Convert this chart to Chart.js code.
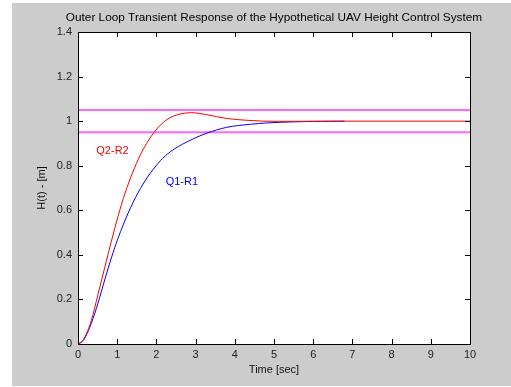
<!DOCTYPE html>
<html>
<head>
<meta charset="utf-8">
<script src="https://cdn.jsdelivr.net/npm/chart.js@4.4.1/dist/chart.umd.min.js"></script>
<style>
  html, body { margin: 0; padding: 0; background: #ffffff; }
  #wrap { width: 511px; height: 387px; position: relative; }
</style>
</head>
<body>
<div id="wrap"><canvas id="c" width="511" height="387"></canvas></div>
<script>
// ---- Data ----
const titleText = "Outer Loop Transient Response of the Hypothetical UAV Height Control System";
const xLabel = "Time [sec]";
const yLabel = "H(t) - [m]";
const xTicks = [0, 1, 2, 3, 4, 5, 6, 7, 8, 9, 10];
const yTicks = [0, 0.2, 0.4, 0.6, 0.8, 1, 1.2, 1.4];

const tQ2R2 = [0, 0.1, 0.2, 0.34, 0.51, 0.68, 0.85, 1.02, 1.2, 1.4, 1.58, 1.75, 1.92, 2.1, 2.26, 2.43, 2.6, 2.9, 3.28, 3.79, 4.39, 4.73, 5.5, 7, 10];
const hQ2R2 = [0, 0.012, 0.04, 0.105, 0.222, 0.342, 0.46, 0.572, 0.677, 0.772, 0.845, 0.9, 0.945, 0.982, 1.006, 1.022, 1.032, 1.038, 1.029, 1.012, 1.003, 1.0, 0.999, 1.0, 1.0];

const tQ1R1 = [0, 0.1, 0.2, 0.34, 0.51, 0.68, 0.85, 1.02, 1.28, 1.53, 1.79, 1.92, 2.1, 2.35, 2.77, 3.11, 3.28, 3.79, 4.4, 4.81, 5.54, 6.0, 6.8];
const hQ1R1 = [0, 0.01, 0.035, 0.093, 0.183, 0.287, 0.386, 0.474, 0.588, 0.678, 0.753, 0.784, 0.822, 0.862, 0.906, 0.934, 0.946, 0.972, 0.986, 0.992, 0.997, 0.999, 1.0];

const bandUpper = 1.05;
const bandLower = 0.95;
const bandT = [0, 10];

const seriesLabels = ["Q2-R2", "Q1-R1"];
const labelPos = [[0.88, 0.865], [2.65, 0.725]]; // data coords of text labels

// ---- build ----
const pts = (xs, ys) => xs.map((x, i) => ({ x: x, y: ys[i] }));
const FONT = "'Liberation Sans', Arial, sans-serif";

const decor = {
  id: 'decor',
  beforeDraw(chart) {
    const ctx = chart.ctx;
    ctx.save();
    ctx.fillStyle = '#ffffff';
    ctx.fillRect(0, 0, chart.width, chart.height);
    ctx.fillStyle = '#cccccc';
    ctx.fillRect(12, 3, chart.width - 12, 383);
    const a = chart.chartArea;
    ctx.fillStyle = '#ffffff';
    ctx.fillRect(a.left, a.top, a.right - a.left, a.bottom - a.top);
    ctx.restore();
  },
  afterDatasetsDraw(chart) {
    const ctx = chart.ctx;
    const a = chart.chartArea;
    const xs = chart.scales.x, ys = chart.scales.y;
    ctx.save();
    ctx.strokeStyle = '#000000';
    ctx.lineWidth = 1;
    ctx.beginPath();
    ctx.rect(Math.round(a.left) + 0.5, Math.round(a.top) + 0.5, Math.round(a.right - a.left), Math.round(a.bottom - a.top));
    ctx.stroke();
    // inward ticks
    ctx.beginPath();
    const L = 5;
    xTicks.forEach(v => {
      const px = Math.round(xs.getPixelForValue(v)) + 0.5;
      ctx.moveTo(px, a.bottom); ctx.lineTo(px, a.bottom - L);
      ctx.moveTo(px, a.top); ctx.lineTo(px, a.top + L);
    });
    yTicks.forEach(v => {
      const py = Math.round(ys.getPixelForValue(v)) + 0.5;
      ctx.moveTo(a.left, py); ctx.lineTo(a.left + L, py);
      ctx.moveTo(a.right, py); ctx.lineTo(a.right - L, py);
    });
    ctx.stroke();
    // series labels
    ctx.font = '11px ' + FONT;
    ctx.textAlign = 'center';
    ctx.textBaseline = 'middle';
    ctx.fillStyle = '#ff0000';
    ctx.fillText(seriesLabels[0], xs.getPixelForValue(labelPos[0][0]), ys.getPixelForValue(labelPos[0][1]));
    ctx.fillStyle = '#0000ff';
    ctx.fillText(seriesLabels[1], xs.getPixelForValue(labelPos[1][0]), ys.getPixelForValue(labelPos[1][1]));
    // title
    ctx.fillStyle = '#000000';
    ctx.font = '11.8px ' + FONT;
    ctx.fillText(titleText, (a.left + a.right) / 2, 18);
    // axis titles
    ctx.font = '11px ' + FONT;
    ctx.fillStyle = '#111111';
    ctx.fillText(xLabel, (a.left + a.right) / 2, 370);
    ctx.translate(42, (a.top + a.bottom) / 2);
    ctx.rotate(-Math.PI / 2);
    ctx.fillText(yLabel, 0, 0);
    ctx.restore();
  }
};

new Chart(document.getElementById('c'), {
  type: 'line',
  data: {
    datasets: [
      { label: seriesLabels[0], data: pts(tQ2R2, hQ2R2), borderColor: '#ff0000', borderWidth: 1, pointRadius: 0, cubicInterpolationMode: 'monotone', order: 0 },
      { label: seriesLabels[1], data: pts(tQ1R1, hQ1R1), borderColor: '#0000ff', borderWidth: 1, pointRadius: 0, cubicInterpolationMode: 'monotone', order: 1 },
      { label: 'upper', data: pts(bandT, [bandUpper, bandUpper]), borderColor: '#ff66ff', borderWidth: 2, pointRadius: 0, order: 2 },
      { label: 'lower', data: pts(bandT, [bandLower, bandLower]), borderColor: '#ff66ff', borderWidth: 2, pointRadius: 0, order: 2 }
    ]
  },
  options: {
    responsive: false,
    animation: false,
    devicePixelRatio: 1,
    layout: { padding: { top: 32, right: 41, left: 0, bottom: 0 } },
    plugins: { legend: { display: false }, title: { display: false }, tooltip: { enabled: false } },
    scales: {
      x: {
        type: 'linear', min: 0, max: 10,
        afterFit(s) { s.height = 43; },
        afterBuildTicks(s) { s.ticks = xTicks.map(v => ({ value: v })); },
        grid: { display: false, drawTicks: false },
        border: { display: false },
        ticks: { padding: 4, color: '#222222', font: { family: FONT, size: 11 }, maxRotation: 0, callback: v => String(v) }
      },
      y: {
        type: 'linear', min: 0, max: 1.4,
        afterFit(s) { s.width = 78; },
        afterBuildTicks(s) { s.ticks = yTicks.map(v => ({ value: v })); },
        grid: { display: false, drawTicks: false },
        border: { display: false },
        ticks: { padding: 6, color: '#222222', font: { family: FONT, size: 11 }, callback: v => String(Math.round(v * 10) / 10) }
      }
    }
  },
  plugins: [decor]
});
</script>
</body>
</html>
